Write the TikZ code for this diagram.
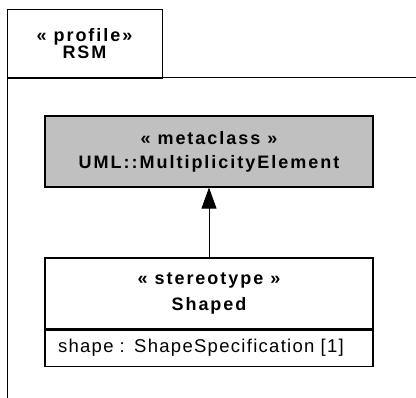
\documentclass[tikz,border=0pt]{standalone}
\usepackage{fontspec}
\newfontfamily\umlfont[LetterSpace=7]{Liberation Sans}
\newfontfamily\umlbold[LetterSpace=11]{Liberation Sans}
\usepackage{tikz}
\usetikzlibrary{arrows.meta, positioning}
\definecolor{metagray}{HTML}{C0C0C0}

\begin{document}
\begin{tikzpicture}[
            x=1pt, y=-1pt, node distance=0pt,
            box/.style={draw=black, line width=1.2pt, minimum width=328pt,
                        minimum height=71pt, inner sep=0pt, align=center,
                        font=\umlbold\bfseries\fontsize{18}{24}\selectfont},
            tabbox/.style={draw=black, line width=0.8pt, minimum width=155pt,
                        minimum height=69pt, inner sep=0pt, align=center,
                        font=\umlbold\bfseries\fontsize{18}{17}\selectfont},
            attrbox/.style={draw=black, line width=1.2pt, text width=302pt,
                        inner xsep=13pt, inner ysep=0pt, minimum height=36pt,
                        align=left, font=\umlfont\fontsize{18.5}{20}\selectfont},
            arr/.style={-{Triangle[width=15pt, length=21pt]}, line width=0.8pt}
          ]
          \useasboundingbox (0,0) rectangle (416,398);
          \coordinate (fbl) at (7,398);
          \coordinate (ftr) at (416,78);
          \draw[line width=1pt] (fbl) |- (ftr);
          \node[tabbox] (tab) at (84.5,43.5) {« profile»\\RSM};
          \node[box, fill=metagray] (meta) at (209,151.5) {« metaclass »\\UML::MultiplicityElement};
          \node[box, fill=white] (stereo) at (209,293.5) {« stereotype »\\[2pt]Shaped};
          \node[attrbox, below=of stereo] (attr) {shape : ShapeSpecification [1]};
          \draw[arr] (stereo) -- (meta);
        \end{tikzpicture}
\end{document}
